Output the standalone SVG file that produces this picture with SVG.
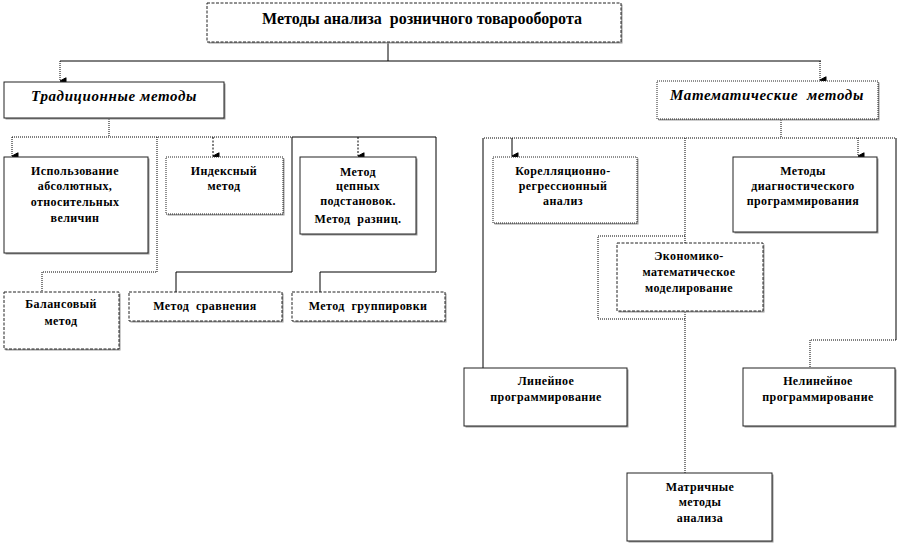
<svg xmlns="http://www.w3.org/2000/svg" width="899" height="544" viewBox="0 0 899 544">
<style>
.bg{fill:#fff}
.box{fill:#fff;stroke:#222;stroke-width:1}
.dot{stroke-dasharray:1,1}
.dash{stroke-dasharray:3,1.5}
.sh{fill:#9a9a9a}
.t{font-family:"Liberation Serif","Times New Roman",serif;font-weight:bold;font-size:12px;text-anchor:middle;fill:#000;white-space:pre;letter-spacing:0.4px}
.ttl{font-size:16px;letter-spacing:0}
.hd{font-size:15px;font-style:italic;letter-spacing:0.6px}
.c{fill:none;stroke:#000;stroke-width:1}
.cd{fill:none;stroke:#000;stroke-width:1;stroke-dasharray:1,1}
.cdd{fill:none;stroke:#000;stroke-width:1;stroke-dasharray:2,1.5}
</style>
<defs>
<marker id="ah" markerUnits="userSpaceOnUse" markerWidth="8" markerHeight="8" viewBox="0 0 8 8" refX="4" refY="8" orient="auto-start-reverse">
<path d="M0.5,2 H7.5 M1,2.5 L4,8 L7,2.5 Z" fill="#000" stroke="#000" stroke-width="1"/>
</marker>
</defs>
<rect class="bg" width="899" height="544"/>

<g id="connectors">
<path class="c" d="M388,42 V61 M60,61 H821"/>
<path class="cd" d="M60,61 V81" marker-end="url(#ah)"/>
<path class="cd" d="M820,61 V80" marker-end="url(#ah)"/>
<path class="cd" d="M109,119 V137 M12,137 H292"/>
<path class="c" d="M292,137 H436"/>
<path class="cd" d="M12,137 V156" marker-end="url(#ah)"/>
<path class="cdd" d="M213,137 V156" marker-end="url(#ah)"/>
<path class="cdd" d="M358,137 V156" marker-end="url(#ah)"/>
<path class="cd" d="M157,137 V272 H42 V292"/>
<path class="c" d="M292,137 V272 H176 V292"/>
<path class="c" d="M436,137 V272 H320 V292"/>
<path class="cd" d="M781,120 V138 M484,138 H896"/>
<path class="c" d="M483,138 V368"/>
<path class="c" d="M512,138 V156" marker-end="url(#ah)"/>
<path class="cd" d="M858,138 V156" marker-end="url(#ah)"/>
<path class="cd" d="M685,138 V473"/>
<path class="cd" d="M685,236 H598 V319 H685"/>
<path class="c" d="M896,138 V340"/>
<path class="cd" d="M896,340 H810 V368"/>
</g>

<g id="n-title">
<rect class="sh" x="208.5" y="4.5" width="414" height="39"/>
<rect class="box dash" x="207" y="3" width="414" height="39"/>
<text class="t ttl" x="422" y="24" xml:space="preserve">Методы анализа  розничного товарооборота</text>
</g>

<g id="n-trad">
<rect class="sh" x="5.5" y="83.5" width="220" height="36"/>
<rect class="box" x="4" y="82" width="220" height="36"/>
<text class="t hd" x="114" y="101">Традиционные методы</text>
</g>

<g id="n-math">
<rect class="sh" x="658.5" y="82.5" width="221" height="38"/>
<rect class="box dot" x="657" y="81" width="221" height="38"/>
<text class="t hd" x="767" y="100" xml:space="preserve">Математические  методы</text>
</g>

<g id="n-abs">
<rect class="sh" x="5.5" y="158.5" width="144" height="96"/>
<rect class="box" x="4" y="157" width="144" height="96"/>
<text class="t" x="75" y="175">Использование</text>
<text class="t" x="75" y="190">абсолютных,</text>
<text class="t" x="75" y="206">относительных</text>
<text class="t" x="75" y="222">величин</text>
</g>

<g id="n-index">
<rect class="sh" x="167.5" y="158.5" width="117" height="57"/>
<rect class="box dot" x="166" y="157" width="117" height="57"/>
<text class="t" x="224" y="175">Индексный</text>
<text class="t" x="224" y="190">метод</text>
</g>

<g id="n-chain">
<rect class="sh" x="301.5" y="158.5" width="116" height="77"/>
<rect class="box" x="300" y="157" width="116" height="77"/>
<text class="t" x="358" y="176">Метод</text>
<text class="t" x="358" y="190">цепных</text>
<text class="t" x="358" y="205">подстановок.</text>
<text class="t" x="358" y="223" xml:space="preserve">Метод  разниц.</text>
</g>

<g id="n-balance">
<rect class="sh" x="5.5" y="293.5" width="115" height="57"/>
<rect class="box dash" x="4" y="292" width="115" height="57"/>
<text class="t" x="61" y="308">Балансовый</text>
<text class="t" x="61" y="325">метод</text>
</g>

<g id="n-compare">
<rect class="sh" x="130.5" y="293.5" width="153" height="29"/>
<rect class="box dash" x="129" y="292" width="153" height="29"/>
<text class="t" x="205" y="310" xml:space="preserve">Метод  сравнения</text>
</g>

<g id="n-group">
<rect class="sh" x="293.5" y="293.5" width="153" height="29"/>
<rect class="box dash" x="292" y="292" width="153" height="29"/>
<text class="t" x="368" y="310" xml:space="preserve">Метод  группировки</text>
</g>

<g id="n-corr">
<rect class="sh" x="494.5" y="158.5" width="144" height="66"/>
<rect class="box dot" x="493" y="157" width="144" height="66"/>
<text class="t" x="563" y="175">Корелляционно-</text>
<text class="t" x="563" y="190">регрессионный</text>
<text class="t" x="563" y="205">анализ</text>
</g>

<g id="n-diag">
<rect class="sh" x="734.5" y="158.5" width="144" height="75"/>
<rect class="box" x="733" y="157" width="144" height="75"/>
<text class="t" x="803" y="175">Методы</text>
<text class="t" x="803" y="190">диагностического</text>
<text class="t" x="803" y="205">программирования</text>
</g>

<g id="n-econ">
<rect class="sh" x="618.5" y="244.5" width="146" height="68"/>
<rect class="box dash" x="617" y="243" width="146" height="68"/>
<text class="t" x="689" y="260">Экономико-</text>
<text class="t" x="689" y="276">математическое</text>
<text class="t" x="689" y="292">моделирование</text>
</g>

<g id="n-linear">
<rect class="sh" x="465.5" y="369.5" width="163" height="58"/>
<rect class="box" x="464" y="368" width="163" height="58"/>
<text class="t" x="546" y="385">Линейное</text>
<text class="t" x="546" y="401">программирование</text>
</g>

<g id="n-nonlinear">
<rect class="sh" x="744.5" y="369.5" width="152" height="58"/>
<rect class="box" x="743" y="368" width="152" height="58"/>
<text class="t" x="818" y="385">Нелинейное</text>
<text class="t" x="818" y="401">программирование</text>
</g>

<g id="n-matrix">
<rect class="sh" x="628.5" y="474.5" width="145" height="68"/>
<rect class="box" x="627" y="473" width="145" height="68"/>
<text class="t" x="700" y="491">Матричные</text>
<text class="t" x="700" y="506">методы</text>
<text class="t" x="700" y="522">анализа</text>
</g>
</svg>
